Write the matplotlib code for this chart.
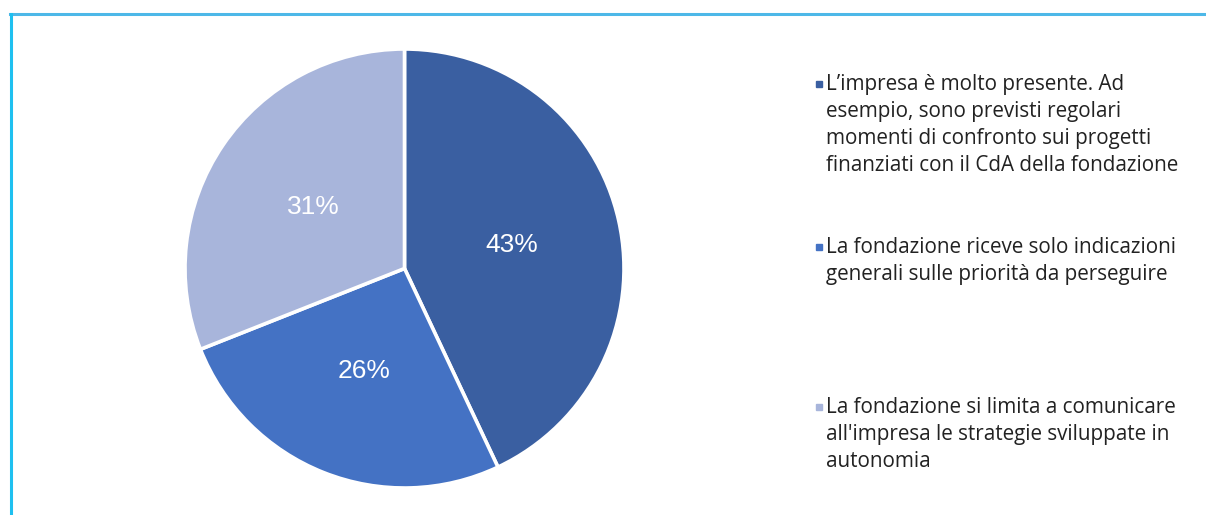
import matplotlib.pyplot as plt
from matplotlib.lines import Line2D

# data
labels = [
    "L\u2019impresa \u00e8 molto presente. Ad\nesempio, sono previsti regolari\nmomenti di confronto sui progetti\nfinanziati con il CdA della fondazione",
    "La fondazione riceve solo indicazioni\ngenerali sulle priorit\u00e0 da perseguire",
    "La fondazione si limita a comunicare\nall'impresa le strategie sviluppate in\nautonomia",
]
shares = [43, 26, 31]
colors = ["#3A5FA1", "#4472C4", "#A8B5DB"]

W, H = 1206, 515
fig = plt.figure(figsize=(W / 100, H / 100), dpi=100)

# cyan frame lines at top and left
fig.add_artist(Line2D([10 / W, 1], [1 - 14 / H, 1 - 14 / H], color="#4DB8E8", lw=2.2))
fig.add_artist(Line2D([10.5 / W, 10.5 / W], [0, 1 - 14 / H], color="#1EC0F0", lw=2.2))

ax = fig.add_axes([185 / W, 27 / H, 439 / W, 439 / H])
wedges, texts, autotexts = ax.pie(
    shares, colors=colors, startangle=90, counterclock=False,
    autopct="%d%%", pctdistance=0.5,
    wedgeprops=dict(edgecolor="white", linewidth=2.6),
    textprops=dict(color="white", fontsize=19, family="Liberation Sans"),
)
ax.set_xlim(-1, 1)
ax.set_ylim(-1, 1)
ax.set_aspect("equal")
ax.axis("off")

# legend, laid out by hand
tops = [74, 237, 397]
for lab, col, top in zip(labels, colors, tops):
    fig.text(826 / W, 1 - top / H, lab, ha="left", va="top",
             fontsize=14.9, family="Open Sans", color="#222222", linespacing=1.38)
    fig.add_artist(Line2D([818.5 / W], [1 - (top + 10) / H], marker="s",
                          markersize=3.8, color=col, lw=0))

fig.savefig("out.png", dpi=100)
